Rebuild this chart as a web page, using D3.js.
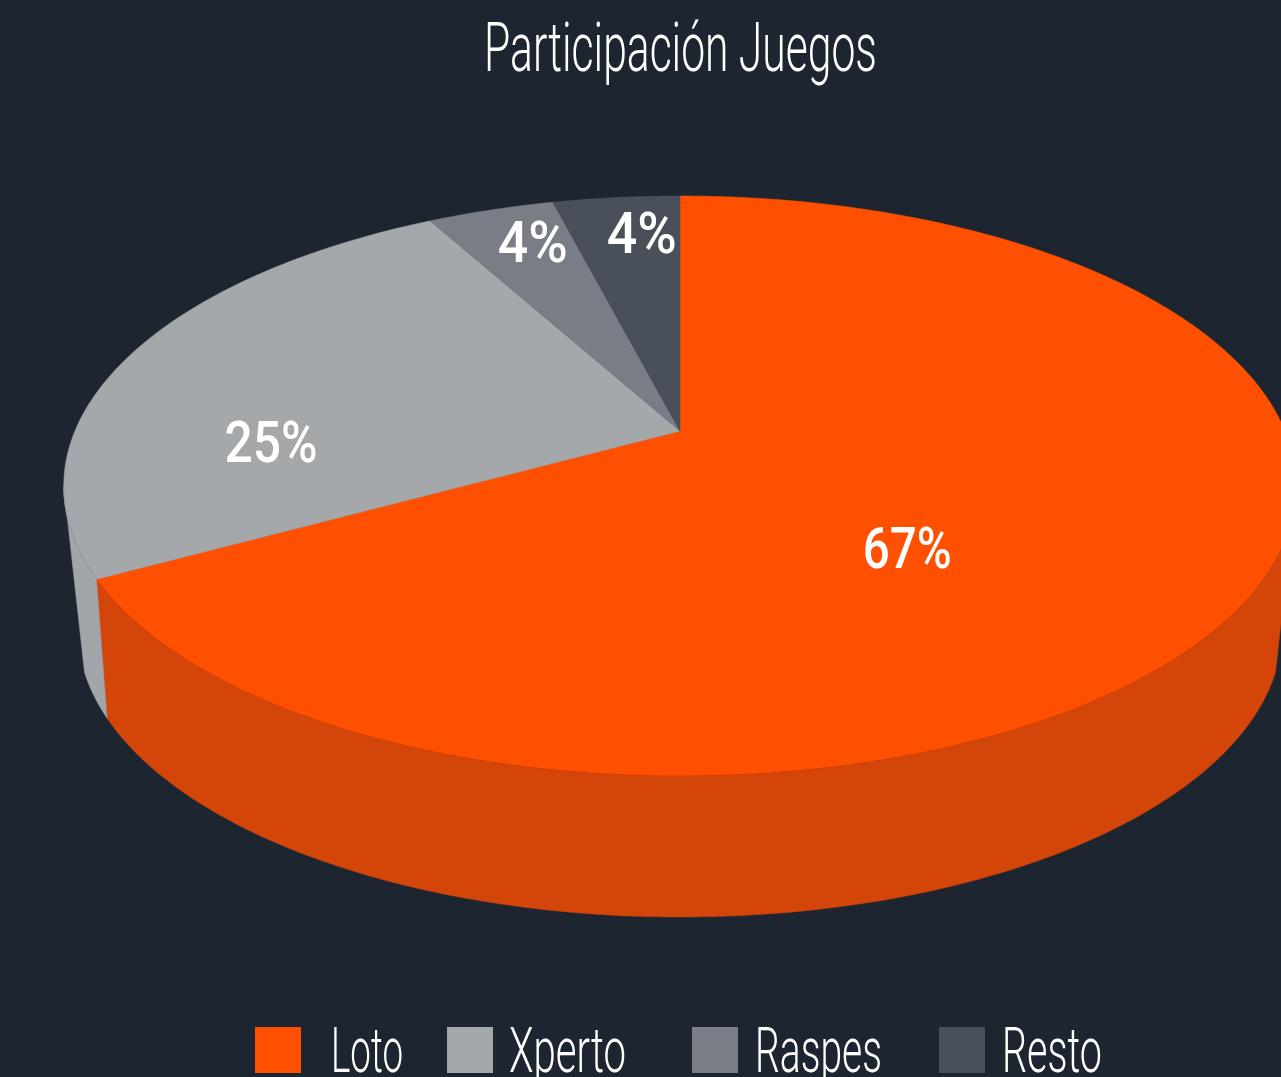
<!DOCTYPE html>
<html><head><meta charset="utf-8">
<script src="https://cdn.jsdelivr.net/npm/d3@7"></script>
<style>html,body{margin:0;padding:0;background:#1d2630;overflow:hidden}</style>
</head><body>
<svg id="chart" width="1281" height="1077"></svg>
<script>
// ---- data ----
const categories = ["Loto", "Xperto", "Raspes", "Resto"];
const values = [67, 25, 4, 4];
const valueLabels = ["67%", "25%", "4%", "4%"];
const titleText = "Participación Juegos";

// ---- style / layout ----
const topColors  = ["#ff4f00", "#a5a8ab", "#797d85", "#4a5059"];
const sideColors = ["#d4450a", "#a3a6a9", "#72767e", "#454b53"];
const edgeColors = ["#c7400a", "#8e9194", "#676b72", "#3f454c"];
const bg = "#1d2630";
// label anchor: [fraction along slice angle, fraction of radius]
const labelAnchor = [[0.572, 0.52], [0.283, 0.672], [0.625, 0.824], [0.646, 0.821]];
const labelWidths = [89, 93, 70, 70];
const legendX = [255, 447, 692, 939];
const legendTextX = [331, 509, 755, 1002];
const legendTextWidths = [72, 117, 127, 100];

const W = 1281, H = 1077;
const cx = 680, cy = 431, R = 605;
// top plane perspective
const sinA = 0.4621, eT = 0.1897;
// bottom plane (depth) projection
const cyB = 571.2, kB = 0.4544, mB = 0.974, eB = 0.205;
const deg = Math.PI / 180;
const topCut = [101 * deg, 259 * deg], botCut = [110 * deg, 250 * deg];

const svg = d3.select("#chart");
svg.append("rect").attr("width", W).attr("height", H).attr("fill", bg);

// phi clockwise from top (far side), r radius
function projTop(phi, r) {
  const X = r * Math.sin(phi), Z = r * Math.cos(phi);
  const s = 1 / (1 + eT * Z / R);
  return [cx + X * s, cy - Z * sinA * s];
}
function projBot(phi, r) {
  const X = r * Math.sin(phi), Z = r * Math.cos(phi);
  const s = 1 / (1 + eB * Z / R);
  return [cx + X * mB * s, cyB - Z * kB * s];
}

const pie = d3.pie().sort(null).startAngle(0).endAngle(2 * Math.PI);
const arcs = pie(values);

const line = d3.line();
const N = 360;
function arcPts(f, a0, a1) {
  const n = Math.max(2, Math.ceil(N * Math.abs(a1 - a0) / (2 * Math.PI)));
  return d3.range(n + 1).map(i => f(a0 + (a1 - a0) * i / n, R));
}

// side walls (front part only)
const gWalls = svg.append("g");
arcs.forEach((a, i) => {
  const t0 = Math.max(a.startAngle, topCut[0]), t1 = Math.min(a.endAngle, topCut[1]);
  const b0 = Math.max(a.startAngle, botCut[0]), b1 = Math.min(a.endAngle, botCut[1]);
  if (t1 <= t0) return;
  const top = arcPts(projTop, t0, t1);
  const bot = b1 > b0 ? arcPts(projBot, b0, b1).reverse() : [];
  gWalls.append("path").attr("d", line(top.concat(bot)) + "Z")
    .attr("fill", sideColors[i]).attr("stroke", sideColors[i]).attr("stroke-width", 0.5);
});

// tops
const gTops = svg.append("g");
arcs.forEach((a, i) => {
  const pts = [[cx, cy]].concat(arcPts(projTop, a.startAngle, a.endAngle));
  gTops.append("path").attr("d", line(pts) + "Z")
    .attr("fill", topColors[i]).attr("stroke", topColors[i]).attr("stroke-width", 0.6)
    .attr("stroke-linejoin", "round");
});
// thin edge where top meets the wall
arcs.forEach((a, i) => {
  const t0 = Math.max(a.startAngle, topCut[0]), t1 = Math.min(a.endAngle, topCut[1]);
  if (t1 <= t0) return;
  gTops.append("path").attr("d", line(arcPts(projTop, t0, t1)))
    .attr("fill", "none").attr("stroke", edgeColors[i]).attr("stroke-width", 0.8);
});

// fit helper: condensed text via horizontal scale
function fitText(sel, x, y, target, anchor) {
  const w = sel.node().getComputedTextLength();
  const k = target / w;
  sel.attr("x", 0).attr("y", 0)
     .attr("text-anchor", anchor)
     .attr("transform", `translate(${x},${y}) scale(${k},1)`);
}

// value labels
const gLab = svg.append("g");
arcs.forEach((a, i) => {
  const [f, rf] = labelAnchor[i];
  const phi = a.startAngle + (a.endAngle - a.startAngle) * f;
  const [lx, ly] = projTop(phi, R * rf);
  const fs = 57;
  const t = gLab.append("text").text(valueLabels[i])
    .attr("font-family", "Roboto, 'Open Sans', sans-serif")
    .attr("font-weight", 500).attr("font-size", fs).attr("fill", "#ffffff");
  fitText(t, lx, ly + fs * 0.711 / 2, labelWidths[i], "middle");
});

// title
const title = svg.append("text").text(titleText)
  .attr("font-family", "Roboto, sans-serif").attr("font-weight", 300)
  .attr("font-size", 68).attr("fill", "#ffffff");
fitText(title, 680.5, 71, 393, "middle");

// legend
const gLeg = svg.append("g");
categories.forEach((c, i) => {
  gLeg.append("rect").attr("x", legendX[i]).attr("y", 1027).attr("width", 46).attr("height", 46)
    .attr("fill", topColors[i]);
  const t = gLeg.append("text").text(c)
    .attr("font-family", "Roboto, sans-serif").attr("font-weight", 300)
    .attr("font-size", 63).attr("fill", "#ffffff");
  fitText(t, legendTextX[i], 1072, legendTextWidths[i], "start");
});
</script>
</body></html>
